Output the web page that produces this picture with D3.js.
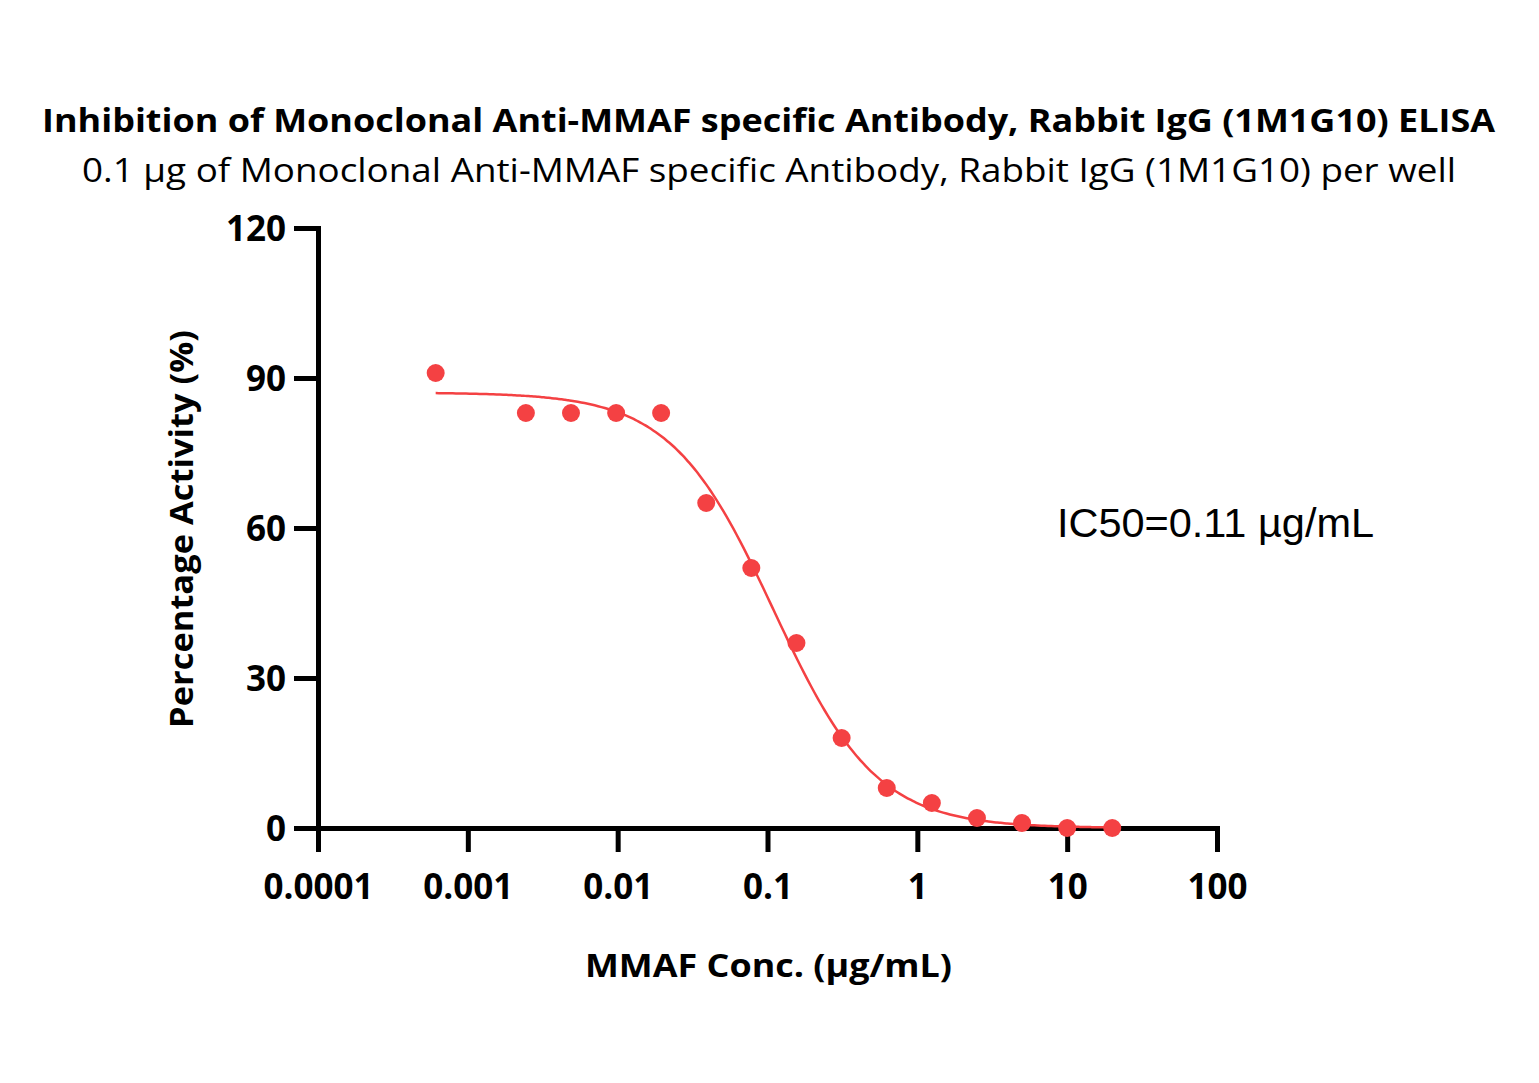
<!DOCTYPE html>
<html><head><meta charset="utf-8">
<script src="https://cdn.jsdelivr.net/npm/d3@7"></script>
<style>body{margin:0;background:#fff}</style>
</head><body>
<svg id="c" width="1539" height="1083"></svg>
<script>
const concentrations = [0.00061, 0.00244, 0.00488, 0.00977, 0.0195, 0.039, 0.078, 0.156, 0.3125, 0.625, 1.25, 2.5, 5, 10, 20];
const activity = [91, 83, 83, 83, 83, 65, 52, 37, 18, 8, 5, 2, 1, 0, 0];
const fitTop = 87.1, fitBottom = 0, fitIC50 = 0.11, fitHill = 1.27;
const xTicks = [0.0001, 0.001, 0.01, 0.1, 1, 10, 100];
const xTickLabels = ["0.0001", "0.001", "0.01", "0.1", "1", "10", "100"];
const yTicks = [0, 30, 60, 90, 120];

const svg = d3.select("#c");
const L = 318, R = 1217, T = 228, B = 828;
const x = d3.scaleLog().domain([0.0001, 100]).range([L, R]);
const y = d3.scaleLinear().domain([0, 120]).range([B, T]);
const red = "#F44143";
const sans = "'Open Sans', Lato, sans-serif";

function fitText(sel, w) {
  sel.attr("textLength", w).attr("lengthAdjust", "spacingAndGlyphs");
  return sel;
}

fitText(svg.append("text").attr("x", 768.5).attr("y", 132).attr("text-anchor", "middle")
  .attr("font-family", sans).attr("font-weight", "bold").attr("font-size", 32)
  .text("Inhibition of Monoclonal Anti-MMAF specific Antibody, Rabbit IgG (1M1G10) ELISA"), 1453);
fitText(svg.append("text").attr("x", 769).attr("y", 182).attr("text-anchor", "middle")
  .attr("font-family", sans).attr("font-size", 32)
  .text("0.1 µg of Monoclonal Anti-MMAF specific Antibody, Rabbit IgG (1M1G10) per well"), 1374);

// axes
const xAxis = d3.axisBottom(x).tickValues(xTicks).tickFormat((d, i) => xTickLabels[i]).tickSizeInner(24).tickSizeOuter(0);
const gx = svg.append("g").attr("transform", `translate(0,${B})`).call(xAxis);
const yAxis = d3.axisLeft(y).tickValues(yTicks).tickSizeInner(24).tickSizeOuter(0).tickPadding(8);
const gy = svg.append("g").attr("transform", `translate(${L},0)`).call(yAxis);
[gx, gy].forEach(g => {
  g.select(".domain").attr("stroke", "#000").attr("stroke-width", 5).attr("stroke-linecap", "square");
  g.selectAll(".tick line").attr("stroke", "#000").attr("stroke-width", 5);
  g.selectAll(".tick text").attr("fill", "#000").attr("font-family", sans).attr("font-weight", "bold").attr("font-size", 35);
});
gx.selectAll(".tick text").attr("y", 71).attr("dy", 0);
gy.selectAll(".tick text").attr("dy", "0.36em");

fitText(svg.append("text").attr("x", 768.5).attr("y", 977).attr("text-anchor", "middle")
  .attr("font-family", sans).attr("font-weight", "bold").attr("font-size", 33)
  .text("MMAF Conc. (µg/mL)"), 367);
fitText(svg.append("text").attr("transform", "translate(193,529) rotate(-90)").attr("text-anchor", "middle")
  .attr("font-family", sans).attr("font-weight", "bold").attr("font-size", 33)
  .text("Percentage Activity (%)"), 398);

// fitted curve (4-parameter logistic fit shown in the reference)
const lo = Math.log10(concentrations[0]), hi = Math.log10(concentrations[concentrations.length - 1]);
const curveX = d3.range(0, 201).map(i => Math.pow(10, lo + i * (hi - lo) / 200));
const fit = c => fitBottom + (fitTop - fitBottom) / (1 + Math.pow(c / fitIC50, fitHill));
svg.append("path").datum(curveX)
  .attr("d", d3.line().x(d => x(d)).y(d => y(fit(d))).curve(d3.curveMonotoneX))
  .attr("fill", "none").attr("stroke", red).attr("stroke-width", 2.5);

svg.append("g").selectAll("circle").data(concentrations).join("circle")
  .attr("cx", d => x(d)).attr("cy", (d, i) => y(activity[i])).attr("r", 9).attr("fill", red);

fitText(svg.append("text").attr("x", 1057).attr("y", 537)
  .attr("font-family", "'Liberation Sans', Arial, sans-serif").attr("font-size", 41)
  .text("IC50=0.11 µg/mL"), 317);
</script>
</body></html>
